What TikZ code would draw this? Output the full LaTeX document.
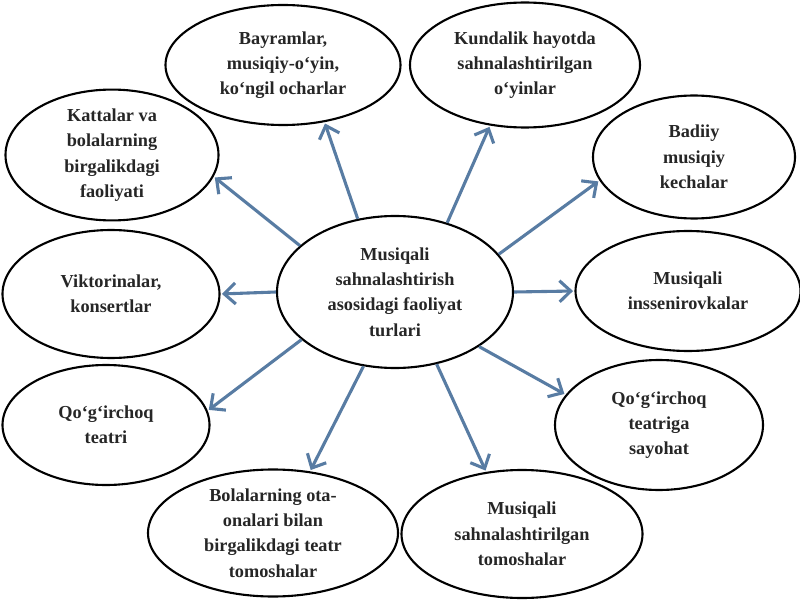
\documentclass[tikz,border=0pt]{standalone}
\usepackage{fontspec}
\setmainfont{Liberation Serif}
\usetikzlibrary{shapes.geometric,arrows.meta}

\definecolor{arrowblue}{RGB}{88,124,163}

\tikzset{
  topic/.style={ellipse,draw=black,line width=1.5pt,inner sep=0pt,align=center,
    text=black!85,font=\fontsize{13}{18}\selectfont\bfseries},
  link/.style={draw=arrowblue,line width=2.2pt,
    -{Straight Barb[length=8pt,width=15pt]},shorten >=1pt},
}

\begin{document}
\begin{tikzpicture}
\fill[white] (0,0) rectangle (20,15);
\useasboundingbox (0,0) rectangle (20,15);

% central node
\node[topic,minimum width=5.9cm,minimum height=3.8cm] (center) at (9.875,7.7)
  {Musiqali\\sahnalashtirish\\asosidagi faoliyat\\turlari};

% outer nodes
\node[topic,minimum width=5.875cm,minimum height=3cm] (bayram) at (7.075,13.375)
  {Bayramlar,\\musiqiy-o‘yin,\\ko‘ngil ocharlar};
\node[topic,minimum width=5.75cm,minimum height=3.125cm] (kundalik) at (13.125,13.375)
  {Kundalik hayotda\\sahnalashtirilgan\\o‘yinlar};
\node[topic,minimum width=5.325cm,minimum height=3cm] (kattalar) at (2.8,11.125)
  {Kattalar va\\bolalarning\\birgalikdagi\\faoliyati};
\node[topic,minimum width=5.05cm,minimum height=3.075cm] (badiiy) at (17.35,11.075)
  {Badiiy\\musiqiy\\kechalar};
\node[topic,minimum width=5.425cm,minimum height=3.2cm] (viktorina) at (2.775,7.65)
  {Viktorinalar,\\konsertlar};
\node[topic,minimum width=5.625cm,minimum height=3cm] (inssen) at (17.2,7.725)
  {Musiqali\\inssenirovkalar};
\node[topic,minimum width=5.175cm,minimum height=3cm] (qogirchoq) at (2.65,4.375)
  {Qo‘g‘irchoq\\teatri};
\node[topic,minimum width=5.2cm,minimum height=3.25cm] (sayohat) at (16.475,4.375)
  {Qo‘g‘irchoq\\teatriga\\sayohat};
\node[topic,minimum width=6.25cm,minimum height=3.175cm] (otaona) at (6.825,1.675)
  {Bolalarning ota-\\onalari bilan\\birgalikdagi teatr\\tomoshalar};
\node[topic,minimum width=6.025cm,minimum height=3.2cm] (tomosha) at (13.05,1.65)
  {Musiqali\\sahnalashtirilgan\\tomoshalar};

% arrows
\draw[link] (center.117) -- (bayram.-54);
\draw[link] (center.53) -- (kundalik.240);
\draw[link] (center.154) -- (kattalar.-12);
\draw[link] (center.20) -- (badiiy.194);
\draw[link] (center.180) -- (viktorina.0);
\draw[link] (center.0) -- (inssen.180);
\draw[link] (center.207) -- (qogirchoq.8);
\draw[link] (center.-33) -- (sayohat.162);
\draw[link] (center.247) -- (otaona.59);
\draw[link] (center.-60) -- (tomosha.120);
\end{tikzpicture}
\end{document}
